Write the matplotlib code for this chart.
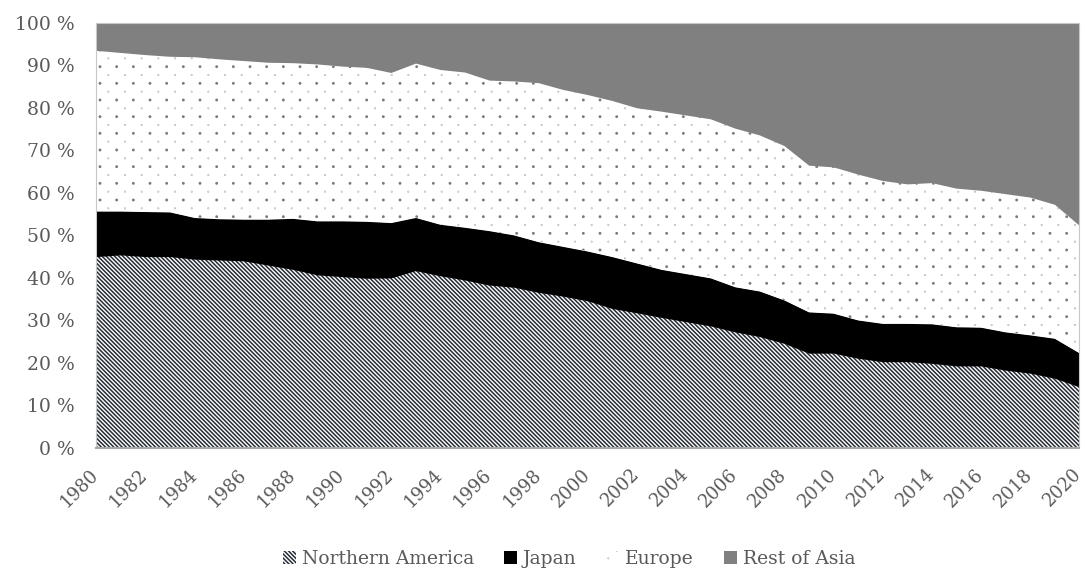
import numpy as np
import matplotlib
matplotlib.use("Agg")
import matplotlib.pyplot as plt
import matplotlib.hatch as mhatch
from matplotlib.path import Path

# Shares of world total (%), 1980-2020
years = list(range(1980, 2021))

northern_america = [45.0, 45.4, 45.0, 45.0, 44.4, 44.2, 44.0, 43.0, 42.0, 40.7,
                    40.3, 39.9, 40.0, 41.7, 40.5, 39.5, 38.3, 37.8, 36.6, 35.7,
                    34.6, 32.8, 31.8, 30.7, 29.7, 28.7, 27.3, 26.2, 24.6, 22.3,
                    22.3, 21.1, 20.3, 20.3, 19.9, 19.3, 19.3, 18.3, 17.6, 16.4,
                    14.4]
japan = [10.7, 10.3, 10.6, 10.5, 9.8, 9.7, 9.8, 10.8, 12.0, 12.7,
         13.1, 13.4, 13.0, 12.5, 12.1, 12.4, 12.8, 12.3, 11.9, 11.7,
         11.7, 12.2, 11.7, 11.3, 11.3, 11.3, 10.6, 10.7, 10.2, 9.7,
         9.4, 9.0, 9.0, 9.0, 9.3, 9.2, 9.1, 9.0, 9.0, 9.4,
         8.0]
europe = [37.8, 37.3, 36.9, 36.6, 37.8, 37.6, 37.3, 36.9, 36.6, 36.9,
          36.4, 36.2, 35.3, 36.3, 36.4, 36.5, 35.4, 36.2, 37.4, 36.9,
          36.8, 36.7, 36.5, 37.2, 37.3, 37.4, 37.3, 36.7, 36.3, 34.5,
          34.4, 34.3, 33.6, 32.8, 33.2, 32.6, 32.2, 32.5, 32.4, 31.5,
          30.0]
rest_of_asia = [6.5, 7.0, 7.5, 7.9, 8.0, 8.5, 8.9, 9.3, 9.4, 9.7,
                10.2, 10.5, 11.7, 9.5, 11.0, 11.6, 13.5, 13.7, 14.1, 15.7,
                16.9, 18.3, 20.0, 20.8, 21.7, 22.6, 24.8, 26.4, 28.9, 33.5,
                33.9, 35.6, 37.1, 37.9, 37.6, 38.9, 39.4, 40.2, 41.0, 42.7,
                47.6]

series_names = ["Northern America", "Japan", "Europe", "Rest of Asia"]
year_ticks = list(range(1980, 2021, 2))
pct_ticks = list(range(0, 101, 10))


class PolkaDots(mhatch.HatchPatternBase):
    """'.' hatch: large dots on a square grid with small dots in between."""
    big = 0.0065
    small = 0.0015

    def __init__(self, hatch, density):
        self.num_rows = hatch.count('.') * density
        self.circle = Path.unit_circle()
        n = self.num_rows
        if n:
            self.num_shapes = (n + 1) ** 2 + n ** 2
            self.num_vertices = self.num_shapes * len(self.circle.vertices)
        else:
            self.num_shapes = 0
            self.num_vertices = 0

    def set_vertices_and_codes(self, vertices, codes):
        n = self.num_rows
        step = 1.0 / n
        cv = self.circle.vertices
        cc = self.circle.codes
        nv = len(cv)
        k = 0
        for i in range(n + 1):
            for j in range(n + 1):
                vertices[k * nv:(k + 1) * nv] = cv * self.big + (i * step, j * step)
                codes[k * nv:(k + 1) * nv] = cc
                k += 1
        for i in range(n):
            for j in range(n):
                vertices[k * nv:(k + 1) * nv] = cv * self.small + ((i + 0.5) * step, (j + 0.5) * step)
                codes[k * nv:(k + 1) * nv] = cc
                k += 1


mhatch._hatch_types = [PolkaDots if t is mhatch.SmallFilledCircles else t
                       for t in mhatch._hatch_types]

plt.rcParams['font.family'] = ['DejaVu Serif']
plt.rcParams['hatch.linewidth'] = 1.1

fig = plt.figure(figsize=(10.85, 5.72), dpi=100)
ax = fig.add_axes([96 / 1085, 1 - 448 / 572, 983 / 1085, 425.3 / 572])

x = np.array(years)
layers = [np.array(northern_america), np.array(japan), np.array(europe), np.array(rest_of_asia)]
styles = [
    dict(facecolor="white", hatch="\\" * 8, hcolor="#262c36"),
    dict(facecolor="black", hatch=None, hcolor="black"),
    dict(facecolor="white", hatch=".", hcolor="#7a7a7a"),
    dict(facecolor="#808080", hatch=None, hcolor="#808080"),
]

base = np.zeros_like(x, dtype=float)
for vals, name, st in zip(layers, series_names, styles):
    top = base + vals
    with plt.rc_context({'hatch.color': st['hcolor']}):
        ax.fill_between(x, base, top, facecolor=st['facecolor'],
                        edgecolor=st['hcolor'] if st['hatch'] else st['facecolor'],
                        linewidth=0, hatch=st['hatch'], label=name)
    base = top

ax.set_xlim(1980, 2020)
ax.set_ylim(0, 100)
ax.set_yticks(pct_ticks)
ax.set_yticklabels([f"{v} %" for v in pct_ticks])
ax.set_xticks(year_ticks)
ax.set_xticklabels([str(y) for y in year_ticks], rotation=45, ha="right",
                   va="center", rotation_mode="anchor")
ax.tick_params(axis="both", length=0, colors="#595959")
ax.tick_params(axis="x", pad=17, labelsize=13)
ax.tick_params(axis="y", pad=15.5, labelsize=13.5)

for side, sp in ax.spines.items():
    sp.set_color("#c8c8c8")
    sp.set_linewidth(0.8)
ax.spines["bottom"].set_linewidth(1.5)
ax.spines["bottom"].set_color("#a6a6a6")

leg = fig.legend(loc="center", bbox_to_anchor=(569 / 1085, 1 - 559 / 572), ncol=4,
                 frameon=False, fontsize=13.5, handlelength=0.7, handleheight=0.7,
                 handletextpad=0.3, columnspacing=1.6, borderpad=0.2)
for t in leg.get_texts():
    t.set_color("#595959")

fig.savefig("out.png", dpi=100)
